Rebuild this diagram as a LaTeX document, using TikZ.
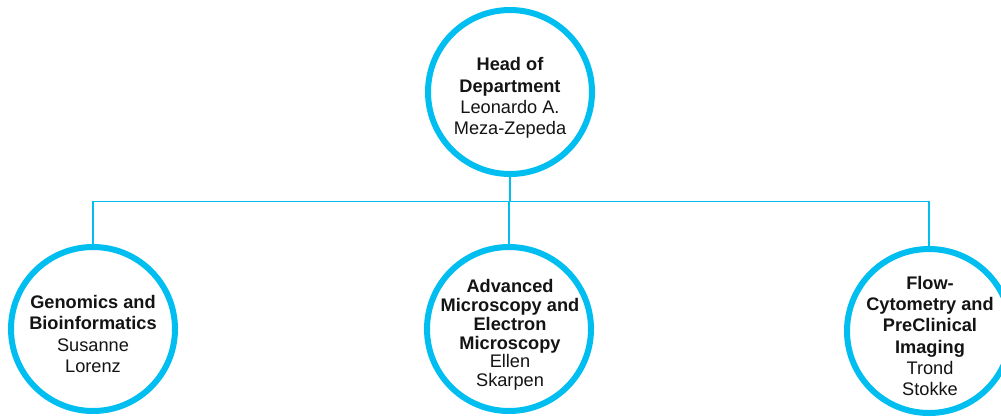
\documentclass[tikz,border=0pt]{standalone}
\usepackage{fontspec}
\setmainfont{Liberation Sans}
\definecolor{cyanline}{RGB}{0,190,240}
\definecolor{txtcol}{RGB}{20,20,20}
\begin{document}
\begin{tikzpicture}[x=1pt,y=-1pt,
  circ/.style={circle,draw=cyanline,line width=6pt,minimum size=164pt,inner sep=0pt,fill=white},
  txt/.style={align=center,text=txtcol,font=\fontsize{18.2}{21.3}\selectfont,inner sep=0pt},
  txtb/.style={align=center,text=txtcol,font=\fontsize{18.2}{18.8}\selectfont,inner sep=0pt},
  conn/.style={draw=cyanline,line width=1.1pt}]
\useasboundingbox (0,0) rectangle (1001,416);
\coordinate (bus) at (509,201.5);
% nodes
\node[circ] (top) at (510,92) {};
\node[circ] (left) at (93,329) {};
\node[circ] (mid) at (509,329) {};
\node[circ] (right) at (929,331) {};
% connectors
\draw[conn] (top.south) -- (top.south |- bus);
\draw[conn] (left.north) |- (right.north |- bus) -- (right.north);
\draw[conn] (mid.north) -- (mid.north |- bus);
% texts
\node[txt] (toptext) at (510,98) {\textbf{Head of}\\\textbf{Department}\\Leonardo A.\\Meza-Zepeda};
\node[txt] (lefttext) at (93,334) {\textbf{Genomics and}\\\textbf{Bioinformatics}\\Susanne\\Lorenz};
\node[txtb] (midtext) at (510,335) {\textbf{Advanced}\\\textbf{Microscopy and}\\\textbf{Electron}\\\textbf{Microscopy}\\Ellen\\Skarpen};
\node[txt] (righttext) at (930,336) {\textbf{Flow-}\\\textbf{Cytometry and}\\\textbf{PreClinical}\\\textbf{Imaging}\\Trond\\Stokke};
\end{tikzpicture}
\end{document}
